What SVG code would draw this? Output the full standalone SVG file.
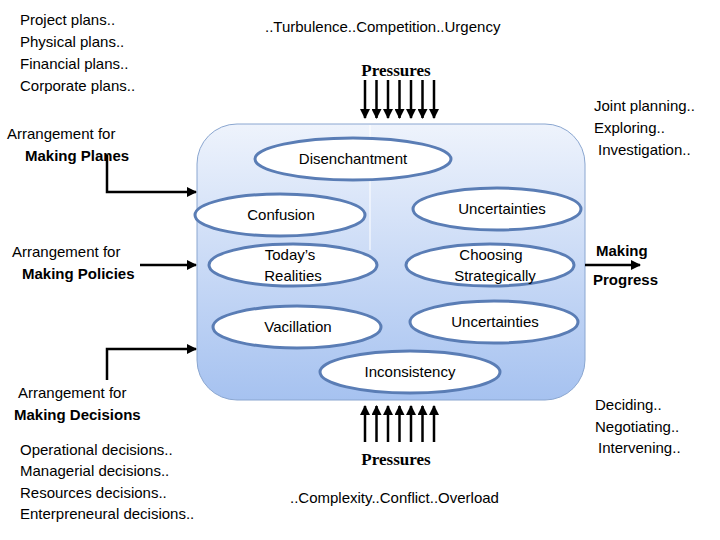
<svg xmlns="http://www.w3.org/2000/svg" width="720" height="540" viewBox="0 0 720 540">
<defs>
<linearGradient id="g" x1="0" y1="0" x2="0" y2="1"><stop offset="0" stop-color="#eef3fc"/><stop offset="1" stop-color="#a6c2f0"/></linearGradient>
<marker id="a" viewBox="0 0 10 10" refX="9" refY="5" markerWidth="4" markerHeight="4" orient="auto"><path d="M0,0L10,5L0,10z" fill="#000"/></marker>
<style>
text{font-family:"Liberation Sans",Arial,sans-serif;font-size:15px;fill:#000}
.b{font-weight:bold}
.p{font-family:"Liberation Serif",serif;font-weight:bold;font-size:17px}
ellipse{fill:#fff;stroke:#5a7db5;stroke-width:3}
.c line,.c polyline{stroke:#000;stroke-width:2.5;fill:none;marker-end:url(#a)}
</style>
</defs>
<rect x="197" y="124" width="388" height="276" rx="40" fill="url(#g)" stroke="#8aa6d0"/>
<line x1="370" y1="125" x2="370" y2="250" stroke="#fff" stroke-width="1"/>
<g class="c" id="connectors">
<line x1="365" y1="80" x2="365" y2="118"/><line x1="376.5" y1="80" x2="376.5" y2="118"/><line x1="388" y1="80" x2="388" y2="118"/><line x1="399.5" y1="80" x2="399.5" y2="118"/><line x1="411" y1="80" x2="411" y2="118"/><line x1="422.5" y1="80" x2="422.5" y2="118"/><line x1="434" y1="80" x2="434" y2="118"/>
<line x1="365" y1="442" x2="365" y2="406"/><line x1="376.5" y1="442" x2="376.5" y2="406"/><line x1="388" y1="442" x2="388" y2="406"/><line x1="399.5" y1="442" x2="399.5" y2="406"/><line x1="411" y1="442" x2="411" y2="406"/><line x1="422.5" y1="442" x2="422.5" y2="406"/><line x1="434" y1="442" x2="434" y2="406"/>
<polyline points="107,155 107,192 196,192"/>
<line x1="140" y1="265" x2="196" y2="265"/>
<polyline points="107,380 107,349 196,349"/>
<line x1="585" y1="265" x2="640" y2="265"/>
</g>
<g id="disenchantment"><ellipse cx="353" cy="159" rx="98" ry="21"/><text x="353" y="164" text-anchor="middle">Disenchantment</text></g>
<g id="confusion"><ellipse cx="280" cy="215" rx="85" ry="21"/><text x="281" y="220" text-anchor="middle">Confusion</text></g>
<g id="uncertainties1"><ellipse cx="497" cy="209" rx="84" ry="21"/><text x="502" y="214" text-anchor="middle">Uncertainties</text></g>
<g id="realities"><ellipse cx="293" cy="265" rx="84" ry="21"/><text x="290" y="260" text-anchor="middle">Today’s</text><text x="293" y="281" text-anchor="middle">Realities</text></g>
<g id="choosing"><ellipse cx="490" cy="265" rx="84" ry="21"/><text x="491" y="260" text-anchor="middle">Choosing</text><text x="495" y="281" text-anchor="middle">Strategically</text></g>
<g id="vacillation"><ellipse cx="297" cy="327" rx="84" ry="21"/><text x="298" y="332" text-anchor="middle">Vacillation</text></g>
<g id="uncertainties2"><ellipse cx="494" cy="322" rx="84" ry="21"/><text x="495" y="327" text-anchor="middle">Uncertainties</text></g>
<g id="inconsistency"><ellipse cx="410" cy="372" rx="90" ry="21"/><text x="410" y="377" text-anchor="middle">Inconsistency</text></g>
<g id="labels">
<text x="20" y="25">Project plans..</text><text x="20" y="47">Physical plans..</text><text x="20" y="69">Financial plans..</text><text x="20" y="91">Corporate plans..</text>
<text x="265" y="32">..Turbulence..Competition..Urgency</text>
<text class="p" x="396" y="76" text-anchor="middle">Pressures</text>
<text class="p" x="396" y="465" text-anchor="middle">Pressures</text>
<text x="290" y="503">..Complexity..Conflict..Overload</text>
<text x="7" y="139">Arrangement for</text><text class="b" x="25" y="161">Making Planes</text>
<text x="12" y="257">Arrangement for</text><text class="b" x="22" y="279">Making Policies</text>
<text x="18" y="398">Arrangement for</text><text class="b" x="14" y="420">Making Decisions</text>
<text x="20" y="455">Operational decisions..</text><text x="20" y="476">Managerial decisions..</text><text x="20" y="498">Resources decisions..</text><text x="20" y="519">Enterpreneural decisions..</text>
<text x="594" y="111">Joint planning..</text><text x="594" y="133">Exploring..</text><text x="598" y="155">Investigation..</text>
<text class="b" x="596" y="256">Making</text><text class="b" x="593" y="285">Progress</text>
<text x="595" y="410">Deciding..</text><text x="595" y="432">Negotiating..</text><text x="598" y="453">Intervening..</text>
</g>
</svg>
